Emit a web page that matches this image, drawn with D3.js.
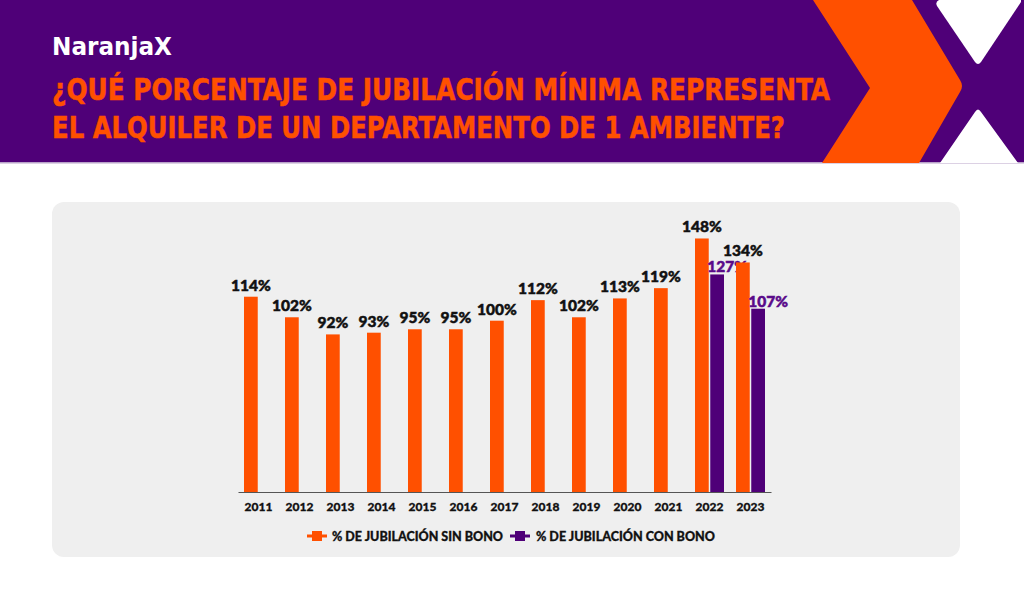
<!DOCTYPE html>
<html><head><meta charset="utf-8">
<script src="https://cdn.jsdelivr.net/npm/d3@7"></script>
<style>
html,body{margin:0;padding:0;background:#fff;}
svg{display:block;}
</style></head>
<body>
<svg id="c" width="1024" height="592"></svg>
<script>
const years = ["2011","2012","2013","2014","2015","2016","2017","2018","2019","2020","2021","2022","2023"];
const sinBono = [114,102,92,93,95,95,100,112,102,113,119,148,134];
const conBono = [null,null,null,null,null,null,null,null,null,null,null,127,107];
const seriesNames = ["% DE JUBILACIÓN SIN BONO","% DE JUBILACIÓN CON BONO"];
const titleLines = ["¿QUÉ PORCENTAJE DE JUBILACIÓN MÍNIMA REPRESENTA","EL ALQUILER DE UN DEPARTAMENTO DE 1 AMBIENTE?"];
const brand = "NaranjaX";

const PURPLE = "#4f0078", ORANGE = "#ff5000";
const svg = d3.select("#c");

// Header
svg.append("rect").attr("x",0).attr("y",0).attr("width",1024).attr("height",163).attr("fill",PURPLE);
svg.append("rect").attr("x",0).attr("y",162).attr("width",1024).attr("height",1.5).attr("fill","#b9a3c9");
svg.append("path").attr("fill",ORANGE)
  .attr("d","M813,0 L912,0 L960,80 Q964,86 960,92 L919,163 L822,163 L870,88 Z");
svg.append("path").attr("fill","#fff")
  .attr("d","M939,0 L1021,0 L1021,2 L981,62 Q978,66 975,62 L937,6 Q935,2 939,0 Z");
svg.append("path").attr("fill","#fff")
  .attr("d","M975,112 Q978,107 981,112 L1018,163 L940,163 Z");

svg.append("text").attr("x",52).attr("y",55).text(brand)
  .attr("fill","#fff").attr("font-family","'Liberation Sans Narrow','DejaVu Sans Condensed',sans-serif")
  .attr("font-weight","bold").attr("font-size",25).attr("textLength",120).attr("lengthAdjust","spacingAndGlyphs");

const tl = [[100,778],[138,733]];
titleLines.forEach((t,i)=>{
  svg.append("text").attr("x",52).attr("y",tl[i][0]).text(t)
    .attr("fill",ORANGE).attr("stroke",ORANGE).attr("stroke-width",0.5)
    .attr("font-family","'Liberation Sans Narrow','DejaVu Sans Condensed',sans-serif")
    .attr("font-weight","bold").attr("font-size",31)
    .attr("textLength",tl[i][1]).attr("lengthAdjust","spacingAndGlyphs");
});

// Panel
svg.append("rect").attr("x",52).attr("y",202).attr("width",908).attr("height",355).attr("rx",12).attr("fill","#efefef");

// Scales
const x = d3.scaleBand().domain(years).range([238,771]).padding(0);
const keys = ["sin","con"];
const x1 = d3.scaleBand().domain(keys).range([6,35]).paddingInner(0.1);
const y = d3.scaleLinear().domain([0,100]).range([492,492-171.3]);

const data = years.map((yr,i)=>({year:yr, sin:sinBono[i], con:conBono[i]}));
const colors = {sin:ORANGE, con:PURPLE};

const g = svg.append("g");
const groups = g.selectAll("g.grp").data(data).join("g").attr("transform",d=>`translate(${x(d.year)},0)`);
groups.selectAll("rect").data(d=>keys.filter(k=>d[k]!=null).map(k=>({k,v:d[k]}))).join("rect")
  .attr("x",d=>x1(d.k)).attr("width",x1.bandwidth())
  .attr("y",d=>y(d.v)).attr("height",d=>y(0)-y(d.v)).attr("fill",d=>colors[d.k]);

groups.selectAll("text.val").data(d=>keys.filter(k=>d[k]!=null).map(k=>({k,v:d[k]}))).join("text")
  .attr("class","val")
  .attr("x",d=>x1(d.k)+x1.bandwidth()/2 + (d.k==="con"?10:0))
  .attr("y",d=>y(d.v)-(d.k==="con"?2:6))
  .attr("text-anchor","middle")
  .attr("fill",d=>d.k==="con"?"#5a0a8a":"#111")
  .attr("stroke",d=>d.k==="con"?"#5a0a8a":"#111").attr("stroke-width",0.5)
  .attr("font-family","Lato, sans-serif").attr("font-weight",900).attr("font-size",15.5)
  .text(d=>d.v+"%");

// Axis
const ax = svg.append("g").attr("transform","translate(0,492)")
  .call(d3.axisBottom(x).tickSize(0).tickPadding(10).tickSizeOuter(0));
ax.select(".domain").attr("stroke","#555").attr("stroke-width",1.2);
ax.selectAll("text").attr("font-family","Lato, sans-serif").attr("font-weight",900)
  .attr("font-size",12).attr("fill","#111").attr("stroke","#111").attr("stroke-width",0.3);

// Legend
const leg = [{k:"sin",x:307,tx:332},{k:"con",x:510,tx:536}];
leg.forEach((l,i)=>{
  svg.append("line").attr("x1",l.x).attr("x2",l.x+20).attr("y1",536).attr("y2",536)
    .attr("stroke",colors[l.k]).attr("stroke-width",3);
  svg.append("rect").attr("x",l.x+5).attr("y",531).attr("width",10).attr("height",10).attr("fill",colors[l.k]);
  svg.append("text").attr("x",l.tx).attr("y",540.5).text(seriesNames[i])
    .attr("font-family","Lato, sans-serif").attr("font-weight",900).attr("font-size",12.5).attr("fill","#111")
    .attr("stroke","#111").attr("stroke-width",0.3)
    .attr("textLength",i===0?171:179).attr("lengthAdjust","spacingAndGlyphs");
});
</script>
</body></html>
